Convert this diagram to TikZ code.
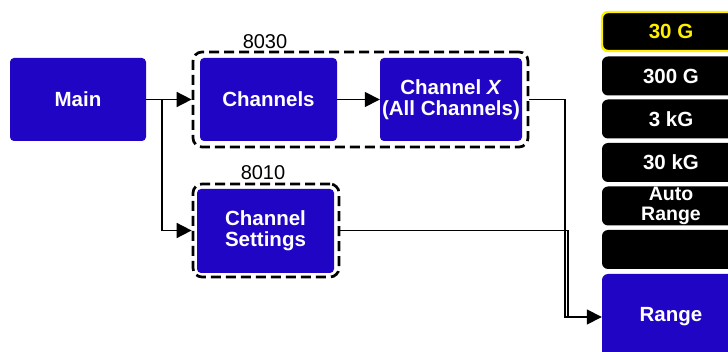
\documentclass[tikz,border=0pt]{standalone}
\usepackage{fontspec}
\setmainfont{Liberation Sans}
\usetikzlibrary{arrows.meta}
\definecolor{menublue}{RGB}{32,5,196}
\definecolor{selyellow}{RGB}{255,240,0}
\begin{document}
\begin{tikzpicture}[x=1pt,y=-1pt,
    menu/.style={fill=menublue,rounded corners=4pt,text=white,inner sep=0pt,align=center,
        font=\fontsize{20.5}{21}\selectfont\bfseries},
    group/.style={draw,dash pattern=on 10pt off 5pt,line width=2.7pt,rounded corners=9pt,inner sep=0pt},
    key/.style={fill=black,rounded corners=6pt,text=white,inner sep=0pt,align=center,
        minimum width=138pt,minimum height=39pt,font=\fontsize{20.5}{19}\selectfont\bfseries},
    link/.style={line width=1.6pt,-{Triangle[length=15pt,width=15pt]}},
    num/.style={font=\fontsize{20}{20}\selectfont}]
    \useasboundingbox (0,0) rectangle (728,352);
	% menu boxes
	\node[menu,minimum width=136pt,minimum height=83pt] (main) at (78,99.5) {Main};
	\node[group,minimum width=335pt,minimum height=95pt] (grpA) at (360.5,99.5) {};
	\node[menu,minimum width=137pt,minimum height=83pt] (chan) at (268.5,99.5) {Channels};
	\node[menu,minimum width=142pt,minimum height=83pt] (chanx) at (451,99.5) {Channel \textit{X}\\(All Channels)};
	\node[group,minimum width=146pt,minimum height=93pt] (grpB) at (266,230.5) {};
	\node[menu,minimum width=137pt,minimum height=84pt] (chset) at (265.5,231) {Channel\\Settings};
	\node[num] (lblA) at (265,42) {8030};
	\node[num] (lblB) at (263,173) {8010};
	% key column
	\node[key,draw=selyellow,line width=2.4pt,text=selyellow] (k30g) at (671,31.5) {30 G};
	\node[key] (k300g) at (671,76) {300 G};
	\node[key] (k3kg) at (671,119) {3 kG};
	\node[key] (k30kg) at (671,162.5) {30 kG};
	\node[key,font=\fontsize{19.5}{20}\selectfont\bfseries] (kauto) at (671,206) {Auto\\Range};
	\node[key] (kblank) at (671,249.5) {};
	\node[key,fill=menublue,minimum height=86pt] (range) at (671,317) {Range};
	% connectors
	\coordinate (split) at (162,99.5);
	\coordinate (bendA) at (565,317);
	\coordinate (bendB) at (568,317);
	\draw[link] (main.east) -- (grpA.west);
	\draw[link] (split) |- (grpB.west);
	\draw[link] (chan.east) -- (chanx.west);
	\draw[line width=1.6pt] (grpB.east) -| (bendB);
	\draw[link] (grpA.east) -| (bendA) -- (range.west);
\end{tikzpicture}
\end{document}
